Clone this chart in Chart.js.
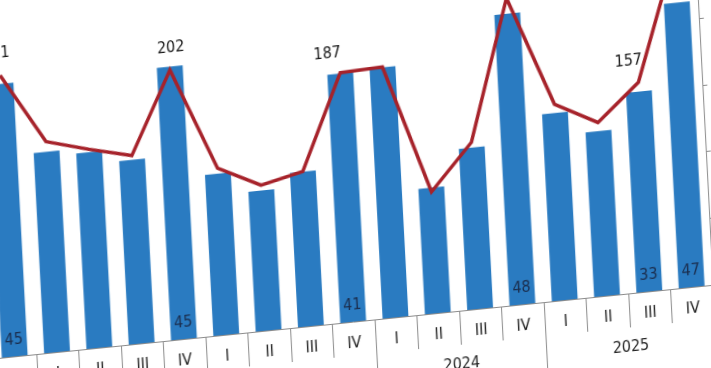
<!DOCTYPE html>
<html><head><meta charset="utf-8">
<script src="https://cdn.jsdelivr.net/npm/chart.js@4/dist/chart.umd.min.js"></script>
<style>
html,body{margin:0;padding:0;background:#fff;overflow:hidden;width:711px;height:368px;}
canvas{position:absolute;left:0;top:0;transform-origin:0 0;}
</style></head><body>
<canvas id="c" width="783" height="510"></canvas>
<script>
// ---- data ----
const quarters = ['IV','I','II','III','IV','I','II','III','IV','I','II','III','IV','I','II','III','IV'];
const categoryYears = ['2021','2022','2022','2022','2022','2023','2023','2023','2023','2024','2024','2024','2024','2025','2025','2025','2025'];
const barValues  = [45, 33.1, 32.3, 30.3, 45, 26.6, 23.1, 25.5, 41, 41.3, 20.7, 26.6, 48, 30.9, 27.2, 33, 47];
const lineValues = [211, 158, 149, 141, 202, 125, 109, 116, 187, 188, 91, 125, 230, 147, 130, 157, 250];
const labeledIdx = [0, 4, 8, 12, 15, 16];
const rightTicks = [0, 50, 100, 150, 200, 250, 300];

const FONT = "'Liberation Sans Narrow', 'DejaVu Sans Condensed', 'Arial Narrow', sans-serif";
const labelShift = {0:[-3,-22], 4:[2,-22], 8:[-12,-20], 12:[0,-22], 15:[-9,-22], 16:[0,-22]};

const axisPlugin = {
  id: 'axisPlugin',
  afterDraw(chart) {
    const ctx = chart.ctx, xs = chart.scales.x, area = chart.chartArea;
    const base = area.bottom;
    const n = quarters.length;
    const step = xs.getPixelForValue(1) - xs.getPixelForValue(0);
    ctx.save();
    ctx.strokeStyle = '#8c8c8c'; ctx.lineWidth = 1;
    ctx.beginPath(); ctx.moveTo(area.left, base + 0.5); ctx.lineTo(area.right, base + 0.5); ctx.stroke();
    for (let i = 0; i <= n; i++) {
      const x = i < n ? xs.getPixelForValue(i) - step / 2 : xs.getPixelForValue(n - 1) + step / 2;
      const yb = i === 0 || i === n || categoryYears[i] !== categoryYears[i - 1];
      ctx.beginPath(); ctx.moveTo(Math.round(x) + 0.5, base); ctx.lineTo(Math.round(x) + 0.5, base + (yb ? 95 : 34)); ctx.stroke();
    }
    ctx.font = '16px ' + FONT;
    ctx.fillStyle = '#222'; ctx.textAlign = 'center'; ctx.textBaseline = 'middle';
    quarters.forEach((q, i) => ctx.fillText(q, xs.getPixelForValue(i), base + 22));
    const seen = [];
    categoryYears.forEach(y => { if (!seen.includes(y)) seen.push(y); });
    seen.forEach(y => {
      const first = categoryYears.indexOf(y), last = categoryYears.lastIndexOf(y);
      ctx.fillText(y, (xs.getPixelForValue(first) + xs.getPixelForValue(last)) / 2, base + 54);
    });
    ctx.restore();
  },
  afterDatasetsDraw(chart) {
    const ctx = chart.ctx, base = chart.chartArea.bottom;
    const barMeta = chart.getDatasetMeta(0), lineMeta = chart.getDatasetMeta(1);
    ctx.save();
    ctx.font = '16px ' + FONT; ctx.textAlign = 'center'; ctx.textBaseline = 'middle';
    labeledIdx.forEach(i => {
      const p = lineMeta.data[i], s = labelShift[i] || [0, -22];
      ctx.fillStyle = '#151515';
      ctx.fillText(String(lineValues[i]), p.x + s[0], p.y + s[1]);
      const b = barMeta.data[i];
      ctx.fillStyle = '#1b2d4d';
      ctx.fillText(String(barValues[i]), b.x, base - 16);
    });
    ctx.restore();
  }
};

const canvas = document.getElementById('c');
const chart = new Chart(canvas, {
  data: {
    labels: quarters.map((q, i) => q + ' ' + categoryYears[i]),
    datasets: [
      { type: 'bar', data: barValues, backgroundColor: '#2a7bc1', yAxisID: 'y', order: 1,
        barPercentage: 0.61, categoryPercentage: 1 },
      { type: 'line', data: lineValues, borderColor: '#a6222a', borderWidth: 3.5, pointRadius: 0,
        tension: 0, yAxisID: 'y1', order: 0, borderJoinStyle: 'miter' }
    ]
  },
  options: {
    responsive: false, animation: false, devicePixelRatio: 1,
    layout: { padding: { left: 10, right: 0, top: 20, bottom: 90 } },
    plugins: { legend: { display: false }, tooltip: { enabled: false } },
    scales: {
      x: { display: false, offset: true },
      y: { display: false, min: 0, max: 66 },
      y1: {
        position: 'right', min: 0, max: 300,
        afterBuildTicks: s => { s.ticks = rightTicks.map(v => ({ value: v })); },
        afterFit: s => { s.width = 50; },
        grid: { display: true, drawOnChartArea: false, drawTicks: true, tickLength: 5, color: '#8c8c8c' },
        border: { display: true, color: '#8c8c8c' },
        ticks: { padding: 8, color: '#222', font: { family: FONT, size: 16 } }
      }
    }
  },
  plugins: [axisPlugin]
});

// tilt of the photographed chart
const a = 0.9948, b = -0.1019, c = 0.0523, d = 0.9986;
const px = chart.scales.x.getPixelForValue(1), py = chart.chartArea.bottom;
const e = 57 - (a * px + c * py), f = 352 - (b * px + d * py);
canvas.style.transform = `matrix(${a},${b},${c},${d},${e},${f})`;
</script>
</body></html>
